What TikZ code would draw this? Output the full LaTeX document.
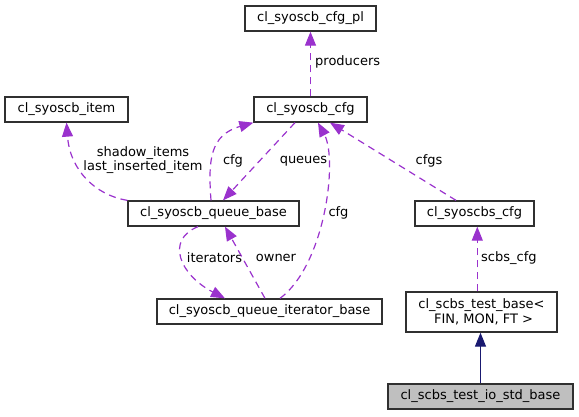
\documentclass[tikz,border=0pt]{standalone}
\usepackage{fontspec}
\setmainfont{DejaVu Sans}
\usetikzlibrary{arrows.meta}
\definecolor{depc}{HTML}{9A32CD}
\definecolor{inhc}{HTML}{191970}
\definecolor{bordc}{HTML}{303030}
\definecolor{hlc}{HTML}{BFBFBF}
\begin{document}
\begin{tikzpicture}[x=1pt,y=-1pt,
  box/.style={draw=bordc, line width=1.3pt, inner sep=0pt, minimum height=25pt, font=\fontsize{13}{14.5}\selectfont},
  depedge/.style={draw=depc, line width=1.2pt, dash pattern=on 7pt off 5pt, -{Triangle[length=14pt,width=11pt]}},
  inhedge/.style={draw=inhc, line width=1.2pt, -{Triangle[length=14pt,width=11pt]}},
  lbl/.style={font=\fontsize{13}{14.5}\selectfont, inner sep=0pt}]
\useasboundingbox (0,0) rectangle (579,416);
\node[box, minimum width=131pt] (cfgpl) at (310.5,18.5) {cl\_syoscb\_cfg\_pl};
\node[box, minimum width=123pt] (item) at (66.5,109.5) {cl\_syoscb\_item};
\node[box, minimum width=113pt] (cfg) at (310.5,109.5) {cl\_syoscb\_cfg};
\node[box, minimum width=171pt] (qbase) at (213.5,213.5) {cl\_syoscb\_queue\_base};
\node[box, minimum width=119pt] (scbscfg) at (474.5,213.5) {cl\_syoscbs\_cfg};
\node[box, minimum width=225pt] (iter) at (269.5,311.5) {cl\_syoscb\_queue\_iterator\_base};
\node[box, minimum width=151pt, minimum height=40pt, align=center] (testbase) at (481.5,312) {cl\_scbs\_test\_base<\\\ FIN, MON, FT >};
\node[box, minimum width=185pt, fill=hlc] (io) at (480.5,396.5) {cl\_scbs\_test\_io\_std\_base};

\draw[depedge] (cfg.north) -- (cfgpl.south);
\node[lbl, anchor=west] (lproducers) at (315,62) {producers};

\draw[depedge] (qbase.north west) .. controls (95,195) and (70,170) .. (item.south);
\node[lbl, align=center] (lshadow) at (143,160) {shadow\_items\\last\_inserted\_item};

\draw[depedge] ([xshift=-2.5pt]qbase.north) .. controls (208,160) and (210,135) .. (cfg.south west);
\node[lbl] (lcfga) at (233,161) {cfg};

\draw[depedge] ([xshift=-15.5pt]cfg.south) -- ([xshift=9.5pt]qbase.north);
\node[lbl] (lqueues) at (303.5,161) {queues};

\draw[depedge] ([xshift=10.5pt]iter.north) .. controls (325,265) and (338,160) .. ([xshift=7.5pt]cfg.south);
\node[lbl] (lcfgb) at (338.5,213) {cfg};

\draw[depedge] ([xshift=-18.5pt]scbscfg.north) -- ([xshift=19.5pt]cfg.south);
\node[lbl] (lcfgs) at (429,161) {cfgs};

\draw[depedge] ([xshift=-15.5pt]qbase.south) .. controls (165,240) and (180,275) .. ([xshift=-44.5pt]iter.north);
\node[lbl] (literators) at (214.5,258) {iterators};

\draw[depedge] ([xshift=-4.5pt]iter.north) -- ([xshift=11.5pt]qbase.south);
\node[lbl] (lowner) at (276,258) {owner};

\draw[depedge] ([xshift=-4.2pt]testbase.north) -- ([xshift=2.8pt]scbscfg.south);
\node[lbl, anchor=west] (lscbs) at (481,258) {scbs\_cfg};

\draw[inhedge] (io.north) -- (io.north |- testbase.south);
\end{tikzpicture}
\end{document}
